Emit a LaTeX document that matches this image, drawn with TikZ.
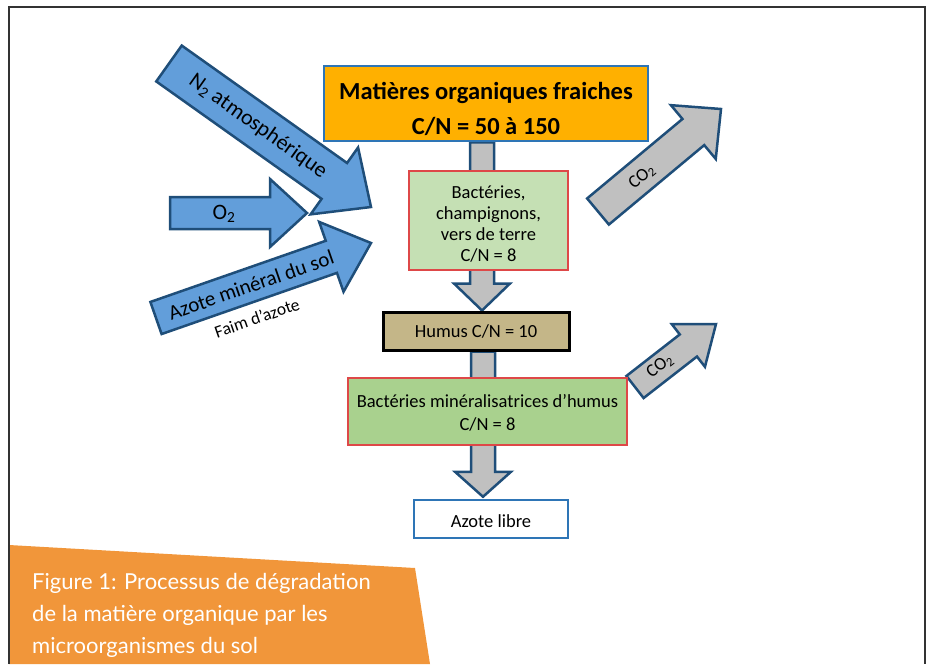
\documentclass[tikz,border=0pt]{standalone}
\usepackage{fontspec}
\setmainfont{Carlito}
\newfontfamily\capfont{Lato}
\usetikzlibrary{calc,backgrounds}

\definecolor{boxblue}{RGB}{46,117,182}
\definecolor{arrowline}{RGB}{31,78,121}
\definecolor{arrowblue}{RGB}{98,158,218}
\definecolor{arrowgray}{RGB}{192,192,192}
\definecolor{orgbox}{RGB}{255,176,0}
\definecolor{greenA}{RGB}{197,224,180}
\definecolor{greenB}{RGB}{169,209,142}
\definecolor{redline}{RGB}{222,72,72}
\definecolor{humusfill}{RGB}{196,182,136}
\definecolor{captionorange}{RGB}{241,150,58}

% #1 style, #2 start, #3 tip, #4 shaft half width, #5 head half width, #6 head length
\newcommand\fatarrow[6][]{%
  \coordinate (famid) at ($(#3)!#6!(#2)$);
  \draw[#1] ($(#2)!#4!90:(#3)$) -- ($(famid)!#4!90:(#3)$) -- ($(famid)!#5!90:(#3)$)
    -- (#3) -- ($(famid)!#5!-90:(#3)$) -- ($(famid)!#4!-90:(#3)$)
    -- ($(#2)!#4!-90:(#3)$) -- cycle;}

\begin{document}
\begin{tikzpicture}[x=1pt,y=-1pt,
  box/.style={draw,line width=2.5pt,inner sep=0pt},
  boxtext/.style={inner sep=0pt,align=center,font=\fontsize{18.5}{21}\selectfont},
  fat/.style={draw=arrowline,line width=2.5pt,line join=miter},
  bluearrow/.style={fat,fill=arrowblue},
  grayarrow/.style={fat,fill=arrowgray},
  arrowtext/.style={inner sep=0pt,font=\fontsize{22}{25}\selectfont},
  co2text/.style={inner sep=0pt,font=\fontsize{18}{21}\selectfont}]
\useasboundingbox (0,0) rectangle (931,664);

% boxes
\node[box,draw=boxblue,fill=orgbox,minimum width=324pt,minimum height=75pt] (top) at (486,103.5) {};
\node[boxtext,font=\fontsize{24.5}{35}\selectfont\bfseries] (toptext) at ([yshift=-5pt]top.center)
  {Matières organiques fraiches\\C/N = 50 à 150};
\node[box,draw=redline,fill=greenA,minimum width=159pt,minimum height=99pt] (bact) at (488.5,220.5) {};
\node[boxtext] (bacttext) at ([yshift=-4pt]bact.center)
  {Bactéries,\\champignons,\\vers de terre\\C/N = 8};
\node[box,draw=black,line width=3pt,fill=humusfill,minimum width=186pt,minimum height=38pt] (humus) at (476,331) {};
\node[boxtext] (humustext) at (humus.center) {Humus C/N = 10};
\node[box,draw=redline,fill=greenB,minimum width=279pt,minimum height=67pt] (miner) at (487.5,411.5) {};
\node[boxtext,font=\fontsize{18.5}{23}\selectfont] (minertext) at ([yshift=-1pt]miner.center)
  {Bactéries minéralisatrices d’humus\\C/N = 8};
\node[box,draw=boxblue,fill=white,minimum width=154pt,minimum height=38pt] (libre) at (491,519) {};
\node[boxtext] (libretext) at ([yshift=-2pt]libre.center) {Azote libre};

% arrow end points
\coordinate (n2s) at (169,63.5);  \coordinate (n2e) at (371,207);
\coordinate (o2s) at (170,213);   \coordinate (o2e) at (307,213);
\coordinate (azs) at (156,318);   \coordinate (aze) at (371,243);
\coordinate (c1s) at (598,211.5); \coordinate (c1e) at (721,109);
\coordinate (c2s) at (635,387);   \coordinate (c2e) at (716,324);
\coordinate (v1s) at ([xshift=-4pt]top.south);
\coordinate (v1e) at ([xshift=6pt]humus.north);
\coordinate (v2s) at ([xshift=7pt]humus.south);
\coordinate (v2e) at ([xshift=-8pt,yshift=2pt]libre.north);

\begin{scope}[on background layer]
  \fatarrow[grayarrow]{v1s}{v1e}{12pt}{28pt}{27pt}
  \fatarrow[grayarrow]{v2s}{v2e}{12pt}{28pt}{25pt}
  \fatarrow[bluearrow]{n2s}{n2e}{22pt}{41pt}{45pt}
  \fatarrow[bluearrow]{o2s}{o2e}{16pt}{34pt}{37pt}
  \fatarrow[bluearrow]{azs}{aze}{17pt}{37pt}{42pt}
  \fatarrow[grayarrow]{c1s}{c1e}{17pt}{35pt}{36pt}
  \fatarrow[grayarrow]{c2s}{c2e}{14pt}{27pt}{35pt}
\end{scope}

% arrow labels
\node[arrowtext,rotate=-35.4] (n2t) at (258,126.5) {N\textsubscript{2} atmosphérique};
\node[arrowtext] (o2t) at (224,214) {O\textsubscript{2}};
\node[arrowtext,rotate=19.2,font=\fontsize{21}{24}\selectfont] (azt) at (251,285) {Azote minéral du sol};
\node[inner sep=0pt,rotate=19.2,font=\fontsize{17.5}{20}\selectfont] (faim) at (257,318) {Faim d’azote};
\node[co2text,rotate=39.7] (c1t) at (642,177) {CO\textsubscript{2}};
\node[co2text,rotate=37.9] (c2t) at (660,366) {CO\textsubscript{2}};

% caption
\fill[captionorange] (9,545) -- (415,568) -- (430,664) -- (9,664) -- cycle;
\node[anchor=west,inner sep=0pt,align=left,text=white,
  font=\capfont\fontsize{22}{32}\selectfont] (caption) at (32,615)
  {Figure 1: Processus de dégradation\\de la matière organique par les\\microorganismes du sol};

% frame
\draw[line width=2pt,black!80] (9,664) -- (9,7) -- (925,7) -- (925,664);
\end{tikzpicture}
\end{document}
